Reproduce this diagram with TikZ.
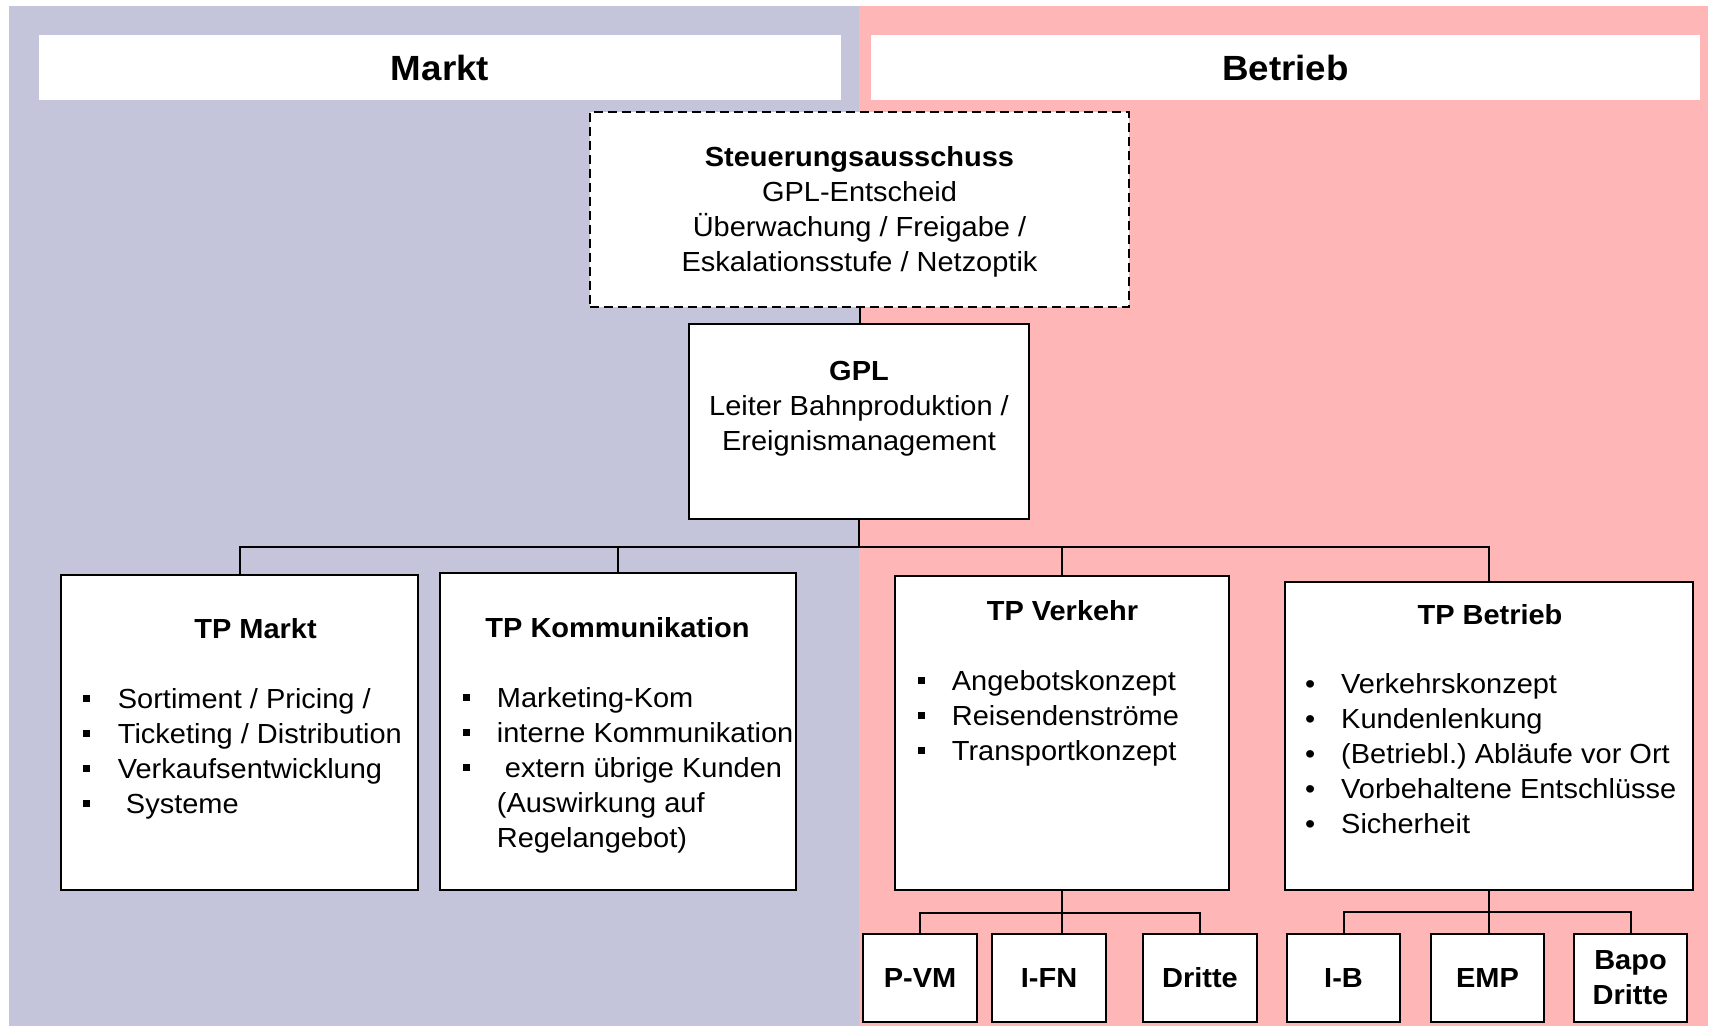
\documentclass[tikz,border=0pt]{standalone}
\usepackage{fontspec}
\setmainfont{Liberation Sans}[FakeStretch=1.05]
\definecolor{lav}{RGB}{196,196,218}
\definecolor{pnk}{RGB}{255,182,182}
\frenchspacing
\newcommand\bodyfont{\fontsize{27.6}{35}\selectfont}
\newcommand\headfont{\fontsize{35}{42}\selectfont\bfseries}
\newcommand\topstrut{\rule{0pt}{24.5pt}}
\newcommand\sqb[1]{\makebox[#1][l]{\raisebox{6pt}{\rule{7pt}{7pt}}}}
\newcommand\rdb[1]{\makebox[#1][l]{•}}
\begin{document}
\begin{tikzpicture}[x=1pt,y=-1pt,
  box/.style={draw=black, line width=2pt, fill=white, rectangle, inner sep=0pt},
  hdr/.style={fill=white, rectangle, inner sep=0pt, font=\headfont},
  txt/.style={inner sep=0pt, font=\bodyfont},
  ttl/.style={inner sep=0pt, font=\bodyfont\bfseries, anchor=base},
  lst/.style={inner sep=0pt, font=\bodyfont, align=left, anchor=north west},
  conn/.style={line width=2pt},
  sbox/.style={box, minimum width=114pt, minimum height=88pt, font=\bodyfont\bfseries, align=center}
]
\useasboundingbox (0,0) rectangle (1710,1026);
\fill[lav] (9,6) rectangle (859,1026);
\fill[pnk] (859,6) rectangle (1708,1026);

% headers
\node[hdr, minimum width=802pt, minimum height=65pt] (markth) at (440,67.5) {Markt};
\node[hdr, minimum width=829pt, minimum height=65pt] (betriebh) at (1285.5,67.5) {Betrieb};

% Steuerungsausschuss
\node[box, dash pattern=on 9pt off 5pt, minimum width=539pt, minimum height=195pt] (sa) at (859.5,209.5) {};
\node[txt, align=center, anchor=north] (satext) at (859.5,142.2)
  {\topstrut\textbf{Steuerungsausschuss}\\GPL-Entscheid\\Überwachung / Freigabe /\\Eskalationsstufe / Netzoptik};

% GPL
\node[box, minimum width=340pt, minimum height=195pt] (gpl) at (859,421.5) {};
\node[txt, align=center, anchor=north] (gpltext) at (859,355.5)
  {\topstrut\textbf{GPL}\\Leiter Bahnproduktion /\\Ereignismanagement};

% TP Markt
\node[box, minimum width=357pt, minimum height=315pt] (tpm) at (239.5,732.5) {};
\node[ttl] (tpmt) at (255.5,638) {TP Markt};
\node[lst] (tpml) at (83,683.5)
  {\topstrut\sqb{34.7pt}Sortiment / Pricing /\\\sqb{34.7pt}Ticketing / Distribution\\\sqb{34.7pt}Verkaufsentwicklung\\\sqb{34.7pt}\ Systeme};

% TP Kommunikation
\node[box, minimum width=356pt, minimum height=317pt] (tpk) at (618,731.5) {};
\node[ttl] (tpkt) at (617.5,637) {TP Kommunikation};
\node[lst] (tpkl) at (463,682.5)
  {\topstrut\sqb{33.7pt}Marketing-Kom\\\sqb{33.7pt}interne Kommunikation\\\sqb{33.7pt}\ extern übrige Kunden\\\hspace*{33.7pt}(Auswirkung auf\\\hspace*{33.7pt}Regelangebot)};

% TP Verkehr
\node[box, minimum width=334pt, minimum height=314pt] (tpv) at (1062,733) {};
\node[ttl] (tpvt) at (1062.5,620.7) {TP Verkehr};
\node[lst] (tpvl) at (918,665.5)
  {\topstrut\sqb{33.7pt}Angebotskonzept\\\sqb{33.7pt}Reisendenströme\\\sqb{33.7pt}Transportkonzept};

% TP Betrieb
\node[box, minimum width=408pt, minimum height=308pt] (tpb) at (1489,736) {};
\node[ttl] (tpbt) at (1490,624) {TP Betrieb};
\node[lst] (tpbl) at (1305,668.5)
  {\topstrut\rdb{36pt}Verkehrskonzept\\\rdb{36pt}Kundenlenkung\\\rdb{36pt}(Betriebl.) Abläufe vor Ort\\\rdb{36pt}Vorbehaltene Entschlüsse\\\rdb{36pt}Sicherheit};

% small boxes
\node[sbox] (pvm) at (920,978) {P-VM};
\node[sbox] (ifn) at (1049,978) {I-FN};
\node[sbox] (dr1) at (1200,978) {Dritte};
\node[sbox, minimum width=113pt] (ib) at (1343.5,978) {I-B};
\node[sbox, minimum width=113pt] (emp) at (1487.5,978) {EMP};
\node[sbox, minimum width=113pt] (bapo) at (1630.5,978) {Bapo\\Dritte};

% connectors
\coordinate (topbus) at (859,547);
\draw[conn] (sa.south) -- (sa.south |- gpl.north);
\draw[conn] (gpl.south) -- (topbus);
\draw[conn] (tpm.north) |- (topbus) -| (tpb.north);
\draw[conn] (tpk.north) -- (tpk.north |- topbus);
\draw[conn] (tpv.north) -- (tpv.north |- topbus);

\coordinate (vbus) at (1062,913);
\draw[conn] (tpv.south) -- (tpv.south |- ifn.north);
\draw[conn] (pvm.north) |- (vbus) -| (dr1.north);
\coordinate (bbus) at (1489,912);
\draw[conn] (tpb.south) -- (tpb.south |- emp.north);
\draw[conn] (ib.north) |- (bbus) -| (bapo.north);
\end{tikzpicture}
\end{document}
